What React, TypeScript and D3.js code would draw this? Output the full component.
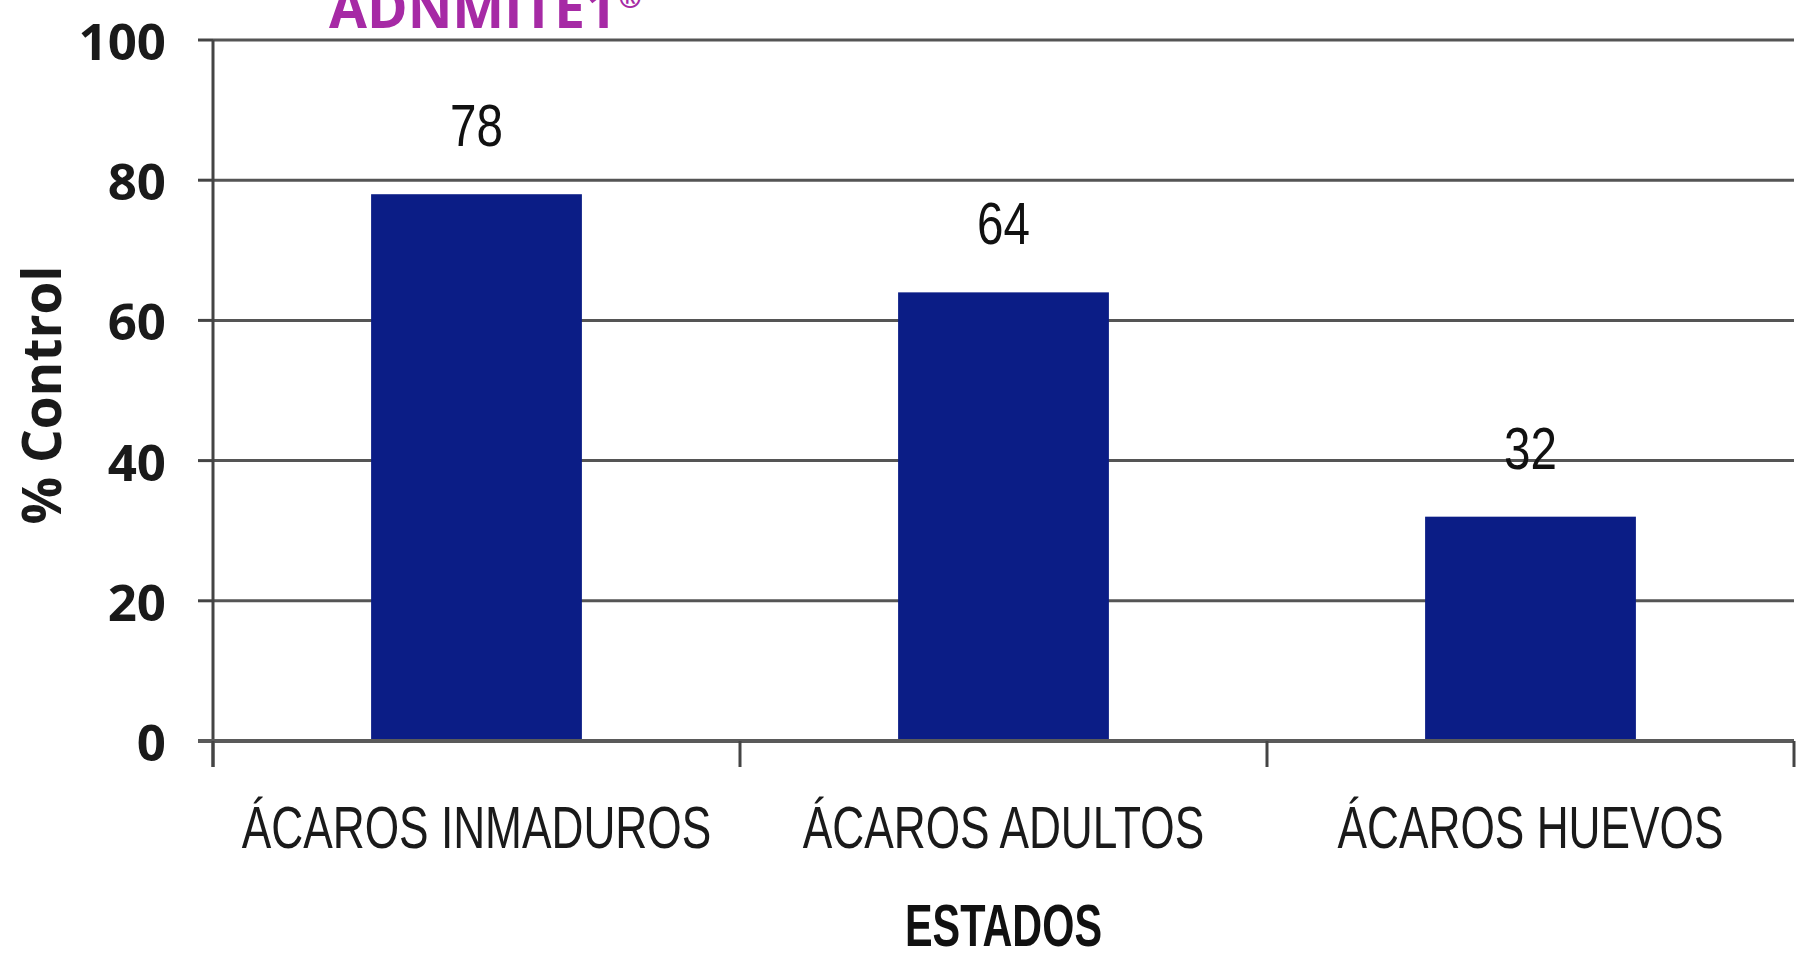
import React from "react";
import * as d3 from "d3";

const categories = ["ÁCAROS INMADUROS", "ÁCAROS ADULTOS", "ÁCAROS HUEVOS"];
const values = [78, 64, 32];
const yTicks = [0, 20, 40, 60, 80, 100];
const titleText = "ADNMITE1";
const yLabel = "% Control";
const xLabel = "ESTADOS";

const W = 1797;
const H = 959;
const left = 213;
const right = 1794;
const top = 40;
const bottom = 741;

export default function App() {
  const x = d3
    .scaleBand<string>()
    .domain(categories)
    .range([left, right])
    .paddingInner(0.6)
    .paddingOuter(0.3);
  const y = d3.scaleLinear().domain([0, 100]).range([bottom, top]);
  const step = x.step();
  const boundaries = d3.range(categories.length + 1).map((i) => left + i * step);

  return (
    <svg
      width={W}
      height={H}
      style={{ position: "absolute", left: 0, top: 0, background: "#fff" }}
    >
      <rect x={0} y={0} width={W} height={H} fill="#ffffff" />
      {/* title */}
      <text
        x={329}
        y={28}
        fontFamily="'Open Sans', sans-serif"
        fontWeight={700}
        fontSize={55}
        fill="#a62aa5"
      >
        {titleText}
        <tspan fontSize={28} dy={-20} dx={2}>®</tspan>
      </text>

      {/* gridlines */}
      {yTicks.filter((t) => t > 0).map((t) => (
        <line
          key={t}
          x1={left}
          x2={right}
          y1={y(t)}
          y2={y(t)}
          stroke="#555"
          strokeWidth={3}
        />
      ))}
      {/* bars */}
      {categories.map((c, i) => (
        <rect
          key={c}
          x={x(c)}
          y={y(values[i])}
          width={x.bandwidth()}
          height={y(0) - y(values[i])}
          fill="#0b1d86"
        />
      ))}
      {/* y axis */}
      <line x1={left} x2={left} y1={top} y2={bottom + 26} stroke="#444" strokeWidth={3} />
      {yTicks.map((t) => (
        <g key={t}>
          <line x1={left - 15} x2={left} y1={y(t)} y2={y(t)} stroke="#444" strokeWidth={3} />
          <text
            x={166}
            y={y(t)}
            textAnchor="end"
            dominantBaseline="central"
            fontFamily="'Open Sans', sans-serif"
            fontWeight={700}
            fontSize={51}
            fill="#1a1a1a"
          >
            {t}
          </text>
        </g>
      ))}
      {/* x axis */}
      <line x1={left - 15} x2={right} y1={bottom} y2={bottom} stroke="#5a5a5a" strokeWidth={4} />
      {boundaries.map((b, i) => (
        <line key={i} x1={b} x2={b} y1={bottom} y2={bottom + 26} stroke="#444" strokeWidth={3} />
      ))}
      {/* value labels */}
      {categories.map((c, i) => {
        const cx = (x(c) as number) + x.bandwidth() / 2;
        const by = y(values[i]) - 48;
        return (
          <text
            key={c}
            transform={`translate(${cx},${by}) scale(0.85,1.05)`}
            textAnchor="middle"
            fontFamily="'Liberation Sans', Arial, sans-serif"
            fontSize={56}
            fill="#111"
          >
            {values[i]}
          </text>
        );
      })}
      {/* category labels */}
      {categories.map((c) => {
        const cx = (x(c) as number) + x.bandwidth() / 2;
        return (
          <text
            key={c}
            transform={`translate(${cx},848) scale(0.75,1)`}
            textAnchor="middle"
            fontFamily="'Liberation Sans', Arial, sans-serif"
            fontSize={59}
            fill="#1a1a1a"
          >
            {c}
          </text>
        );
      })}
      {/* x label */}
      <text
        transform={`translate(${(left + right) / 2},946) scale(0.69,1)`}
        textAnchor="middle"
        fontFamily="'Liberation Sans', Arial, sans-serif"
        fontWeight={700}
        fontSize={60}
        fill="#111"
      >
        {xLabel}
      </text>
      {/* y label */}
      <text
        transform={`translate(40,395) rotate(-90)`}
        textAnchor="middle"
        dominantBaseline="central"
        fontFamily="'Open Sans', sans-serif"
        fontWeight={700}
        fontSize={53}
        fill="#1a1a1a"
      >
        {yLabel}
      </text>
    </svg>
  );
}
